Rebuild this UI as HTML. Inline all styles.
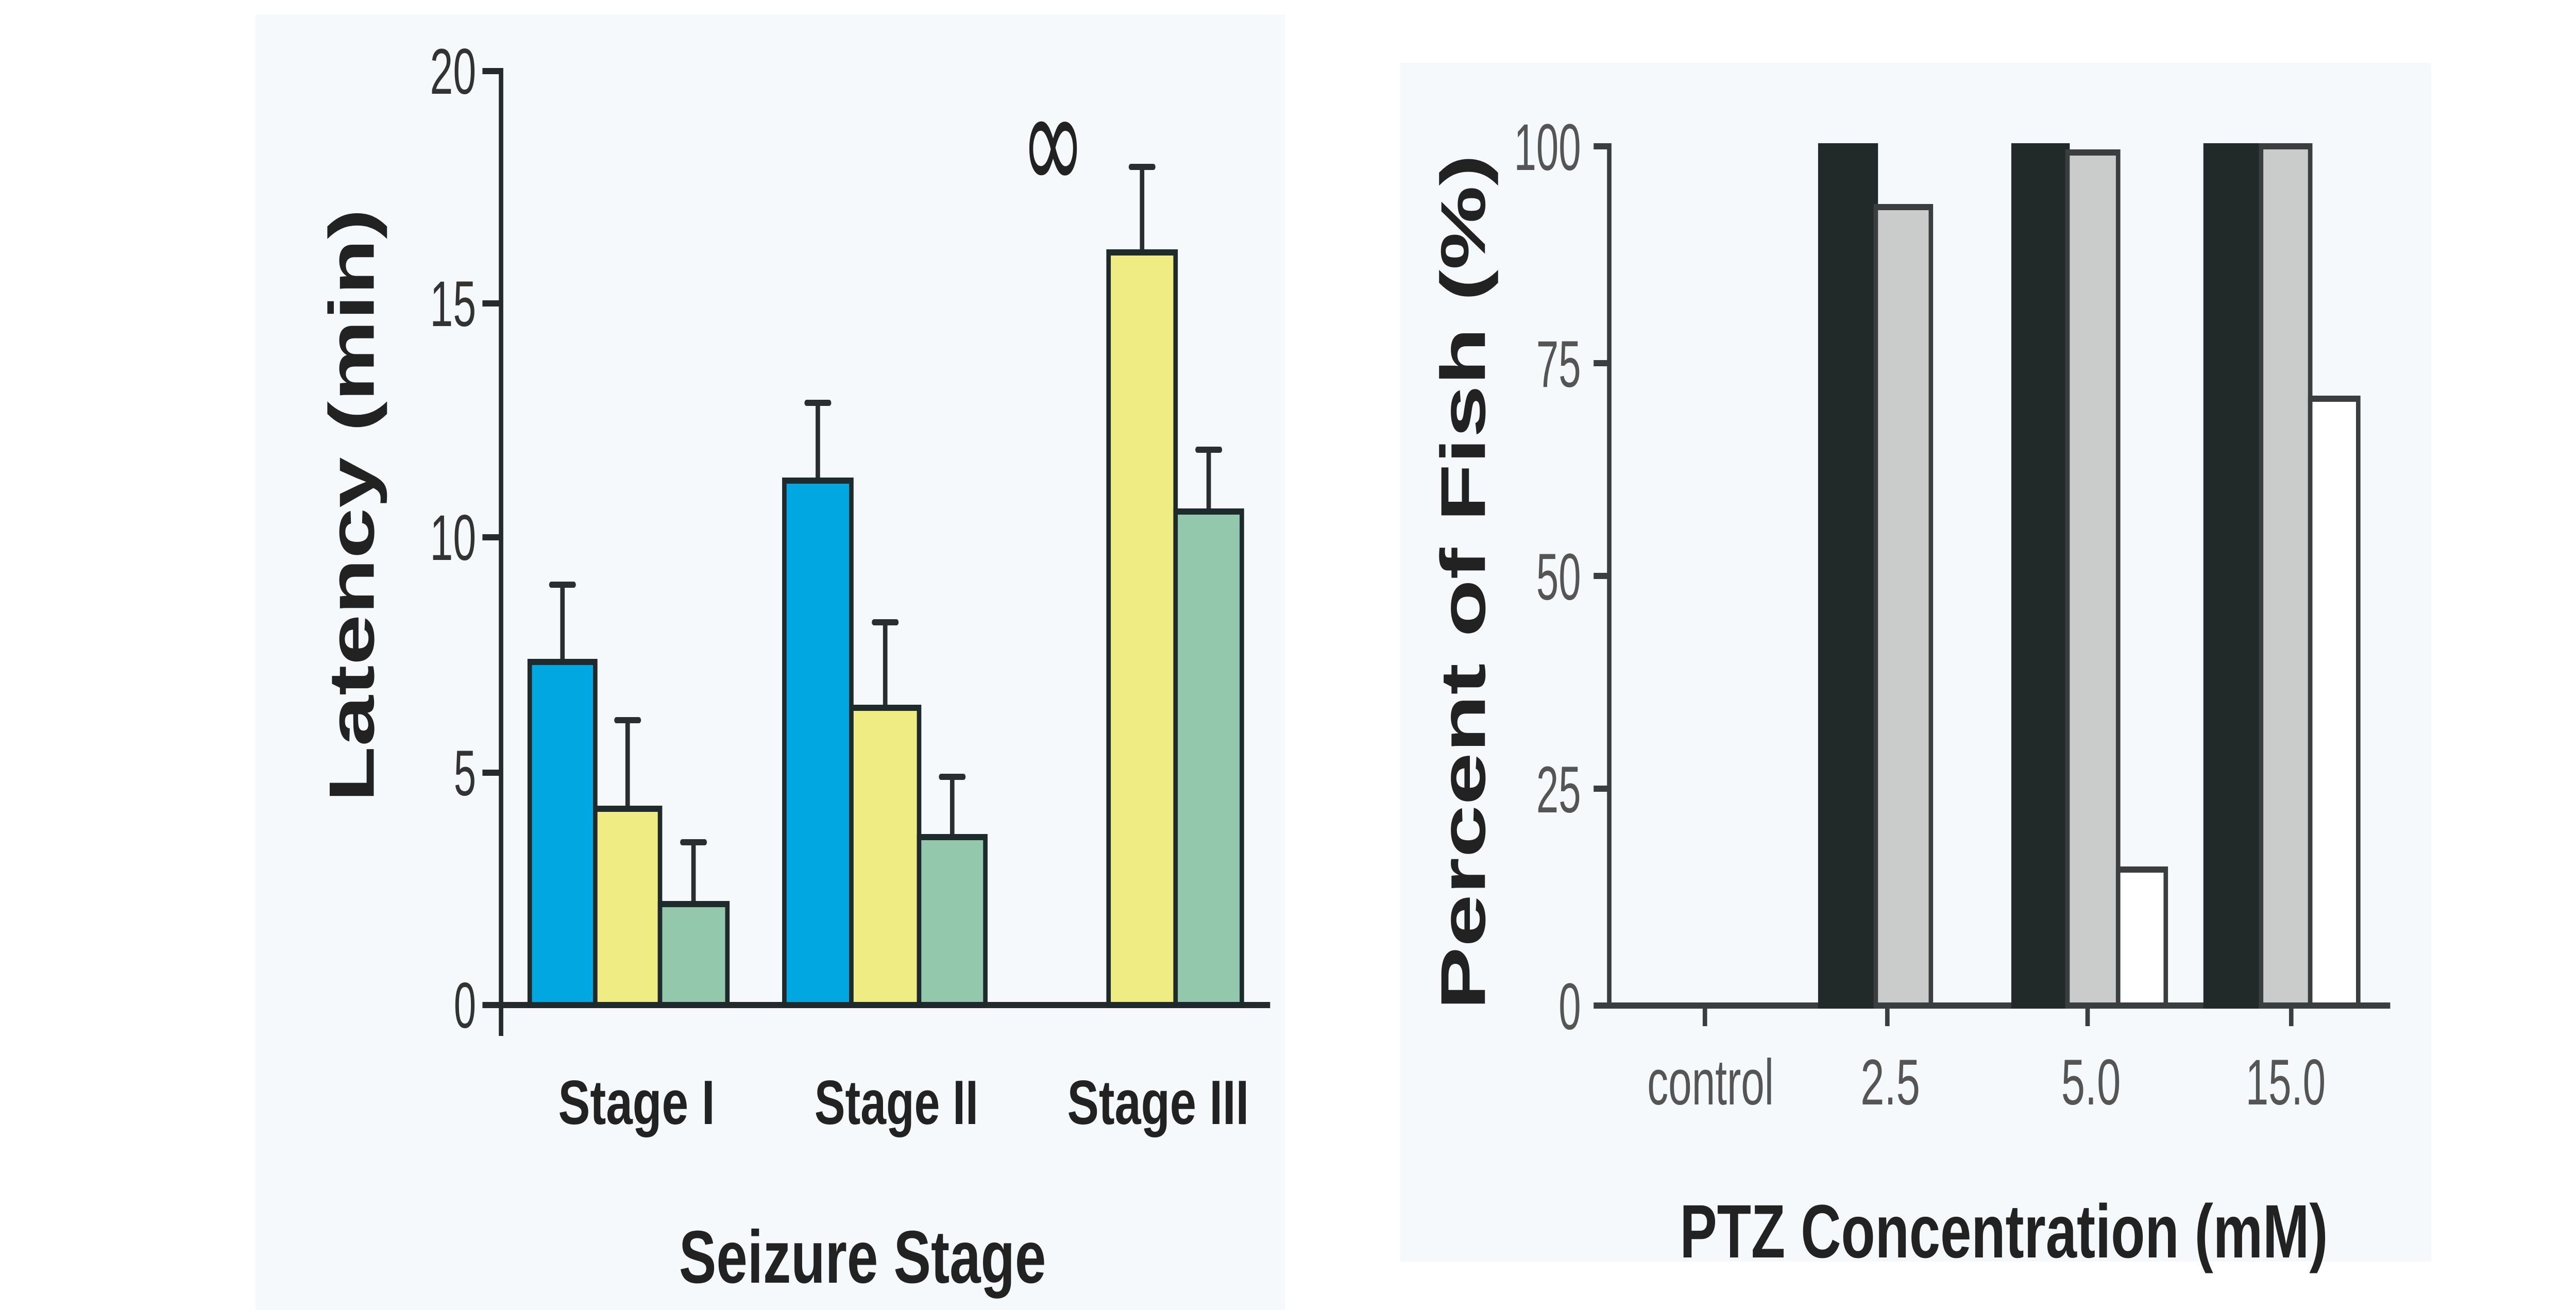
<!DOCTYPE html>
<html><head><meta charset="utf-8"><style>
html,body{margin:0;padding:0;background:#fff;width:100%;height:100%;overflow:hidden;}
svg{display:block;position:absolute;left:0;top:0;width:100vw;height:100vh;}
text{font-family:"Liberation Sans Narrow","Liberation Sans",sans-serif;}
.b{font-family:"Liberation Sans",sans-serif;font-weight:bold;fill:#222;}
</style></head><body>
<svg viewBox="0 0 6920 2543" preserveAspectRatio="none" xmlns="http://www.w3.org/2000/svg">
<rect width="6920" height="2543" fill="#fff"/>
<rect x="686" y="29" width="2766" height="2514" fill="#f6f9fc"/>
<rect x="3761" y="122" width="2770" height="2327" fill="#f6f9fc"/>

<g stroke="#252a2a" stroke-width="12" fill="none">
<line x1="1346" y1="132" x2="1346" y2="2011"/>
<line x1="1340" y1="1951" x2="3412" y2="1951"/>
<line x1="1296" y1="138" x2="1346" y2="138"/>
<line x1="1296" y1="589" x2="1346" y2="589"/>
<line x1="1296" y1="1043" x2="1346" y2="1043"/>
<line x1="1296" y1="1500" x2="1346" y2="1500"/>
<line x1="1296" y1="1951" x2="1346" y2="1951"/>
</g>
<g font-size="125" fill="#333" text-anchor="end">
<text x="1279" y="182" textLength="124" lengthAdjust="spacingAndGlyphs">20</text>
<text x="1279" y="633" textLength="124" lengthAdjust="spacingAndGlyphs">15</text>
<text x="1279" y="1087" textLength="124" lengthAdjust="spacingAndGlyphs">10</text>
<text x="1279" y="1544" textLength="60" lengthAdjust="spacingAndGlyphs">5</text>
<text x="1279" y="1995" textLength="60" lengthAdjust="spacingAndGlyphs">0</text>
</g>
<g stroke="#2a2e2f" stroke-width="12" stroke-linecap="round">
<line x1="1511" y1="1135" x2="1511" y2="1285"/><line x1="1481" y1="1135" x2="1541" y2="1135"/>
<line x1="1686" y1="1398" x2="1686" y2="1570"/><line x1="1656" y1="1398" x2="1716" y2="1398"/>
<line x1="1863" y1="1635" x2="1863" y2="1755"/><line x1="1833" y1="1635" x2="1893" y2="1635"/>
<line x1="2197" y1="782" x2="2197" y2="933"/><line x1="2167" y1="782" x2="2227" y2="782"/>
<line x1="2378" y1="1208" x2="2378" y2="1374"/><line x1="2348" y1="1208" x2="2408" y2="1208"/>
<line x1="2558" y1="1508" x2="2558" y2="1625"/><line x1="2528" y1="1508" x2="2588" y2="1508"/>
<line x1="3068" y1="324" x2="3068" y2="490"/><line x1="3038" y1="324" x2="3098" y2="324"/>
<line x1="3247" y1="873" x2="3247" y2="993"/><line x1="3217" y1="873" x2="3277" y2="873"/>
</g>
<g stroke="#1f2a2c" stroke-width="12">
<rect x="1423" y="1285" width="176" height="666" fill="#00a7e0"/>
<rect x="1599" y="1570" width="174" height="381" fill="#efec84"/>
<rect x="1773" y="1755" width="181" height="196" fill="#93c8ad"/>
<rect x="2107" y="933" width="180" height="1018" fill="#00a7e0"/>
<rect x="2287" y="1374" width="182" height="577" fill="#efec84"/>
<rect x="2469" y="1625" width="178" height="326" fill="#93c8ad"/>
<rect x="2978" y="490" width="180" height="1461" fill="#efec84"/>
<rect x="3158" y="993" width="178" height="958" fill="#93c8ad"/>
</g>
<text x="2829" y="372" font-size="280" fill="#222" text-anchor="middle" textLength="172" lengthAdjust="spacingAndGlyphs" style="font-family:'DejaVu Sans',sans-serif">∞</text>
<g class="b" font-size="122" text-anchor="middle">
<text x="1710" y="2182" textLength="421" lengthAdjust="spacingAndGlyphs" class="b">Stage I</text>
<text x="2408" y="2182" textLength="440" lengthAdjust="spacingAndGlyphs" class="b">Stage II</text>
<text x="3111" y="2182" textLength="488" lengthAdjust="spacingAndGlyphs" class="b">Stage III</text>
</g>
<text class="b" x="2317" y="2490" font-size="145" text-anchor="middle" textLength="986" lengthAdjust="spacingAndGlyphs">Seizure Stage</text>
<text class="b" transform="translate(1004,981) rotate(-90)" x="0" y="0" font-size="172" text-anchor="middle" textLength="1152" lengthAdjust="spacingAndGlyphs">Latency (min)</text>

<g stroke="#3a3e3f" stroke-width="12" fill="none">
<line x1="4323" y1="278" x2="4323" y2="1958"/>
<line x1="4281" y1="1952" x2="6421" y2="1952"/>
<line x1="4281" y1="284" x2="4323" y2="284"/>
<line x1="4281" y1="705" x2="4323" y2="705"/>
<line x1="4281" y1="1118" x2="4323" y2="1118"/>
<line x1="4281" y1="1531" x2="4323" y2="1531"/>
<line x1="4580" y1="1952" x2="4580" y2="1992"/>
<line x1="5070" y1="1952" x2="5070" y2="1992"/>
<line x1="5608" y1="1952" x2="5608" y2="1992"/>
<line x1="6155" y1="1952" x2="6155" y2="1992"/>
</g>
<g font-size="128" fill="#555" text-anchor="end">
<text x="4247" y="330" textLength="180" lengthAdjust="spacingAndGlyphs">100</text>
<text x="4247" y="751" textLength="120" lengthAdjust="spacingAndGlyphs">75</text>
<text x="4247" y="1164" textLength="120" lengthAdjust="spacingAndGlyphs">50</text>
<text x="4247" y="1577" textLength="120" lengthAdjust="spacingAndGlyphs">25</text>
<text x="4247" y="1998" textLength="60" lengthAdjust="spacingAndGlyphs">0</text>
</g>
<g font-size="125" fill="#555" text-anchor="middle">
<text x="4595" y="2144" textLength="340" lengthAdjust="spacingAndGlyphs">control</text>
<text x="5078" y="2144" textLength="160" lengthAdjust="spacingAndGlyphs">2.5</text>
<text x="5617" y="2144" textLength="160" lengthAdjust="spacingAndGlyphs">5.0</text>
<text x="6140" y="2144" textLength="215" lengthAdjust="spacingAndGlyphs">15.0</text>
</g>
<g stroke="#3a3e3f" stroke-width="12">
<rect x="4890" y="284" width="149" height="1668" fill="#222a29" stroke="#222a29"/>
<rect x="5039" y="402" width="148" height="1550" fill="#c9cccb"/>
<rect x="5409" y="284" width="145" height="1668" fill="#222a29" stroke="#222a29"/>
<rect x="5554" y="296" width="136" height="1656" fill="#c9cccb"/>
<rect x="5690" y="1688" width="128" height="264" fill="#ffffff"/>
<rect x="5925" y="284" width="149" height="1668" fill="#222a29" stroke="#222a29"/>
<rect x="6074" y="284" width="132" height="1668" fill="#c9cccb"/>
<rect x="6206" y="774" width="129" height="1178" fill="#ffffff"/>
</g>
<text class="b" x="5383" y="2441" font-size="147" text-anchor="middle" textLength="1741" lengthAdjust="spacingAndGlyphs">PTZ Concentration (mM)</text>
<text class="b" transform="translate(3989,1130) rotate(-90)" x="0" y="0" font-size="170" text-anchor="middle" textLength="1661" lengthAdjust="spacingAndGlyphs">Percent of Fish (%)</text>
</svg>
</body></html>
